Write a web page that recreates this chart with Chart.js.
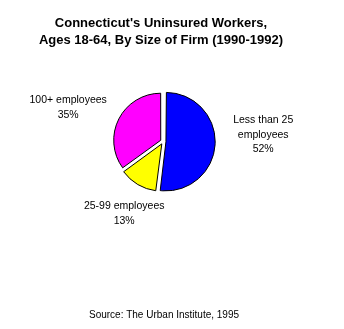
<!DOCTYPE html>
<html>
<head>
<meta charset="utf-8">
<script src="https://cdn.jsdelivr.net/npm/chart.js@4/dist/chart.umd.min.js"></script>
<style>
  html, body { margin: 0; padding: 0; background: #fff; }
  #wrap { width: 344px; height: 329px; position: relative; }
</style>
</head>
<body>
<div id="wrap"><canvas id="pie"></canvas></div>
<script>
// Chart data
const categories = ['Less than 25 employees', '25-99 employees', '100+ employees'];
const labelLines = [['Less than 25', 'employees', '52%'], ['25-99 employees', '13%'], ['100+ employees', '35%']];
const shares = [52, 13, 35];
const titleLines = ["Connecticut's Uninsured Workers,", 'Ages 18-64, By Size of Firm (1990-1992)'];
const sourceText = 'Source: The Urban Institute, 1995';

const sliceColors = ['#0000FF', '#FFFF00', '#FF00FF'];
// label anchor (first line) relative to pie centre
const labelOffsets = [[100, -21], [-39, 65], [-95, -41]];

const textPlugin = {
    id: 'texts',
    afterDraw(chart) {
        const ctx = chart.ctx;
        const arcs = chart.getDatasetMeta(0).data;
        const cx = (chart.chartArea.left + chart.chartArea.right) / 2;
        const cy = (chart.chartArea.top + chart.chartArea.bottom) / 2;
        ctx.save();
        ctx.fillStyle = '#000';
        ctx.textAlign = 'center';
        ctx.textBaseline = 'middle';

        // title
        ctx.font = 'bold 13px "Liberation Sans", Arial, sans-serif';
        ctx.fillText(titleLines[0], 161, 23.5);
        ctx.fillText(titleLines[1], 161, 40);

        // slice labels
        ctx.font = '10.5px "Liberation Sans", Arial, sans-serif';
        arcs.forEach((arc, i) => {
            const [dx, dy] = labelOffsets[i];
            labelLines[i].forEach((line, j) => {
                ctx.fillText(line, cx + dx, cy + dy + j * 14.5);
            });
        });

        // source
        ctx.font = '10px "Liberation Sans", Arial, sans-serif';
        ctx.fillText(sourceText, 164, 315);
        ctx.restore();
    }
};

new Chart(document.getElementById('pie'), {
    type: 'pie',
    data: {
        labels: categories,
        datasets: [{
            data: shares,
            backgroundColor: sliceColors,
            borderColor: '#000',
            borderWidth: 1,
            offset: 11 // v4 draws offset / 4 -> slight explode
        }]
    },
    options: {
        responsive: true,
        maintainAspectRatio: false,
        animation: false,
        radius: 46.5,
        layout: { padding: { left: 0, right: 17.6, top: 0, bottom: 46 } },
        plugins: {
            legend: { display: false },
            tooltip: { enabled: false },
            title: { display: false }
        }
    },
    plugins: [textPlugin]
});
</script>
</body>
</html>
